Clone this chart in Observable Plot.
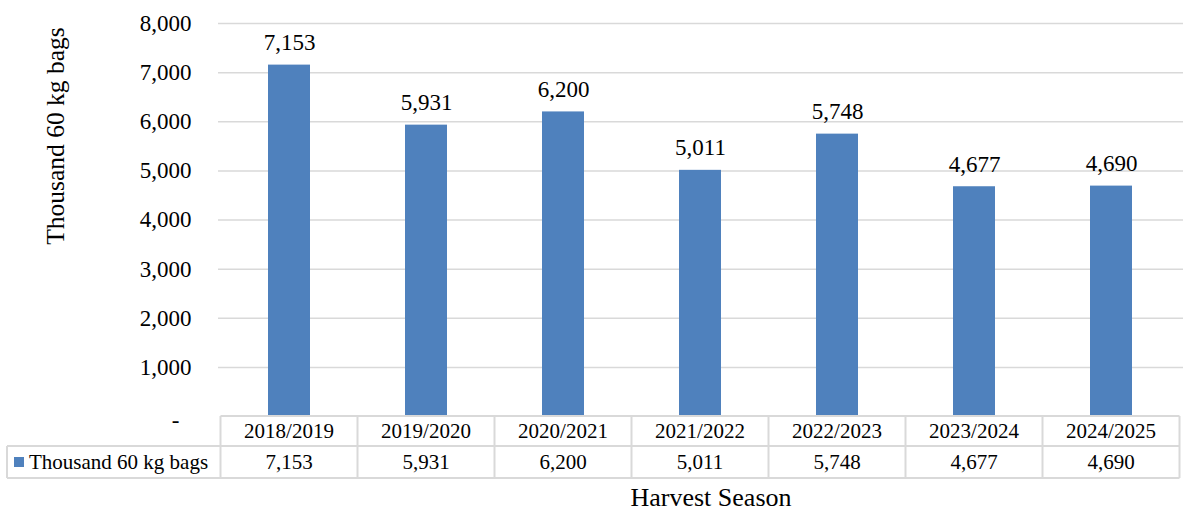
<!DOCTYPE html>
<html>
<head>
<meta charset="utf-8">
<script src="https://cdn.jsdelivr.net/npm/d3@7"></script>
<script src="https://cdn.jsdelivr.net/npm/@observablehq/plot@0.6"></script>
<style>
  html, body { margin: 0; padding: 0; background: #fff; }
  #chart svg { display: block; }
  #chart svg, #chart svg text { font-family: "Liberation Serif", "Times New Roman", serif !important; }
</style>
</head>
<body>
<div id="chart"></div>
<script>
const seasons = ["2018/2019", "2019/2020", "2020/2021", "2021/2022", "2022/2023", "2023/2024", "2024/2025"];
const production = [7153, 5931, 6200, 5011, 5748, 4677, 4690];
const yTicks = [0, 1000, 2000, 3000, 4000, 5000, 6000, 7000, 8000];
const seriesName = "Thousand 60 kg bags";
const yTitle = "Thousand 60 kg bags";
const xTitle = "Harvest Season";

const data = seasons.map((s, i) => ({season: s, value: production[i]}));
const fmt = d3.format(",");
const FONT = "Liberation Serif";
const BAR = "#4f81bd";
const GRID = "#d9d9d9";

const chart = Plot.plot({
  width: 1188,
  height: 510,
  marginLeft: 218,
  marginRight: 5,
  marginTop: 23,
  marginBottom: 94,
  style: {fontFamily: FONT, background: "#fff", overflow: "visible"},
  x: {domain: seasons, paddingInner: 0.69, paddingOuter: 0.345, axis: null},
  y: {domain: [0, 8000], axis: null},
  marks: [
    Plot.gridY(yTicks.filter(d => d > 0), {stroke: GRID, strokeOpacity: 1, strokeWidth: 1.5}),
    Plot.barY(data, {x: "season", y: "value", fill: BAR}),
    Plot.text(data, {x: "season", y: "value", text: d => fmt(d.value), lineAnchor: "bottom", dy: -15, fontSize: 23, fontFamily: FONT, fill: "#000"}),
    Plot.text(yTicks.filter(d => d > 0), {y: d => d, frameAnchor: "left", text: d => fmt(d), textAnchor: "end", dx: -27, fontSize: 23, fontFamily: FONT, fill: "#000"}),
    Plot.text([0], {y: d => d, frameAnchor: "left", text: () => "-", textAnchor: "end", dx: -39, dy: 4, fontSize: 23, fontFamily: FONT, fill: "#000"})
  ]
});

document.getElementById("chart").appendChild(chart);

// Data table below the plot, positioned with the chart's own scales
const xs = chart.scale("x");
const ys = chart.scale("y");
const svg = d3.select(chart);
const y0 = ys.apply(0);
const rowH1 = 30, rowH2 = 32;
const half = (xs.step - xs.bandwidth) / 2;
const left0 = xs.apply(seasons[0]) - half;
const rightN = xs.apply(seasons[seasons.length - 1]) + xs.bandwidth + half;
const tableLeft = 7;
const g = svg.append("g").attr("stroke", GRID).attr("stroke-width", 2);
// horizontal lines
g.append("line").attr("x1", left0).attr("x2", rightN).attr("y1", y0).attr("y2", y0);
g.append("line").attr("x1", tableLeft).attr("x2", rightN).attr("y1", y0 + rowH1).attr("y2", y0 + rowH1);
g.append("line").attr("x1", tableLeft).attr("x2", rightN).attr("y1", y0 + rowH1 + rowH2).attr("y2", y0 + rowH1 + rowH2);
// vertical lines
g.append("line").attr("x1", tableLeft).attr("x2", tableLeft).attr("y1", y0 + rowH1).attr("y2", y0 + rowH1 + rowH2);
seasons.forEach(s => {
  const xl = xs.apply(s) - half;
  g.append("line").attr("x1", xl).attr("x2", xl).attr("y1", y0).attr("y2", y0 + rowH1 + rowH2);
});
g.append("line").attr("x1", rightN).attr("x2", rightN).attr("y1", y0).attr("y2", y0 + rowH1 + rowH2);

const t = svg.append("g").attr("font-family", FONT).attr("fill", "#000").attr("font-size", 21).attr("text-anchor", "middle");
seasons.forEach((s, i) => {
  const cx = xs.apply(s) + xs.bandwidth / 2;
  t.append("text").attr("x", cx).attr("y", y0 + rowH1 / 2).attr("dy", "0.35em").text(s);
  t.append("text").attr("x", cx).attr("y", y0 + rowH1 + rowH2 / 2).attr("dy", "0.35em").text(fmt(production[i]));
});
// legend key in table
svg.append("rect").attr("x", 14).attr("y", y0 + rowH1 + 11).attr("width", 10).attr("height", 10).attr("fill", BAR);
t.append("text").attr("x", 29).attr("y", y0 + rowH1 + rowH2 / 2).attr("dy", "0.35em").attr("text-anchor", "start").text(seriesName);

// y-axis title
svg.append("text").attr("transform", "translate(55,136) rotate(-90)").attr("dy", "0.35em")
  .attr("text-anchor", "middle").attr("font-family", FONT).attr("font-size", 25.5).attr("fill", "#000").text(yTitle);

// x-axis title
svg.append("text").attr("x", 711).attr("y", 497).attr("dy", "0.35em")
  .attr("text-anchor", "middle").attr("font-family", FONT).attr("font-size", 26).attr("fill", "#000").text(xTitle);
</script>
</body>
</html>
